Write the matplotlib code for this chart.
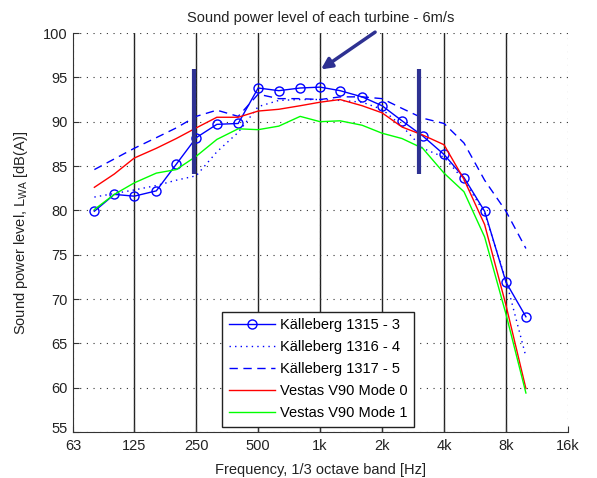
import numpy as np
import matplotlib
matplotlib.use("Agg")
import matplotlib.pyplot as plt
from matplotlib.transforms import ScaledTranslation

# 1/3 octave band centre frequencies [Hz]
freq = [80, 100, 125, 160, 200, 250, 315, 400, 500, 630, 800, 1000,
        1250, 1600, 2000, 2500, 3150, 4000, 5000, 6300, 8000, 10000]

# Sound power level per band [dB(A)]
k1315 = [79.9, 81.8, 81.6, 82.2, 85.2, 88.2, 89.7, 89.8, 93.8, 93.5, 93.8, 93.9,
         93.5, 92.8, 91.8, 90.1, 88.4, 86.3, 83.7, 79.9, 71.9, 68.0]
k1316 = [81.5, 81.9, 82.3, 82.8, 83.4, 83.9, 86.6, 88.8, 91.7, 92.4, 92.5, 92.5,
         92.4, 92.2, 91.4, 89.5, 87.0, 86.0, 83.4, 79.7, 72.1, 63.5]
k1317 = [84.6, 85.8, 87.0, 88.2, 89.3, 90.6, 91.3, 90.6, 93.1, 92.6, 92.6, 92.5,
         92.8, 92.8, 92.6, 91.5, 90.4, 89.8, 87.6, 83.4, 79.9, 75.7]
v90_m0 = [82.6, 84.1, 85.9, 87.0, 88.1, 89.3, 90.5, 90.5, 91.2, 91.4, 91.8, 92.2,
          92.5, 91.8, 91.0, 89.4, 88.5, 87.4, 83.5, 78.4, 69.3, 59.9]
v90_m1 = [80.1, 81.8, 83.1, 84.2, 84.6, 86.1, 88.0, 89.2, 89.1, 89.5, 90.6, 90.0,
          90.1, 89.6, 88.7, 88.1, 87.0, 84.2, 82.1, 77.0, 68.3, 59.4]

octave_ticks = [63, 125, 250, 500, 1000, 2000, 4000, 8000, 16000]
octave_labels = ['63', '125', '250', '500', '1k', '2k', '4k', '8k', '16k']

# highlighted range and arrow
bar_freqs = [245, 3030]
bar_range = [84.1, 95.9]
arrow_tail = (1850, 100.1)
arrow_tip = (1010, 95.9)

plt.rcParams['font.family'] = ['Liberation Sans', 'DejaVu Sans']
plt.rcParams['font.size'] = 10.5

fig = plt.figure(figsize=(5.97, 4.78), dpi=100)
ax = fig.add_axes([0.1223, 0.0962, 0.829, 0.8347])
ax.set_xscale('log')

# solid lines at octave centres
for f in octave_ticks[1:-1]:
    ax.axvline(f, color='#222222', lw=1.0, zorder=1)

ax.plot(freq, k1315, '-o', color='#0000ff', lw=1.0, ms=6.5, mfc='none', mew=1.0,
        label='Källeberg 1315 - 3', zorder=3)
ax.plot(freq, k1316, ':', color='#0000ff', lw=1.0, dashes=(1, 3),
        label='Källeberg 1316 - 4', zorder=3)
ax.plot(freq, k1317, '--', color='#0000ff', lw=1.0, dashes=(6, 4),
        label='Källeberg 1317 - 5', zorder=3)
ax.plot(freq, v90_m0, '-', color='#ff0000', lw=1.0, label='Vestas V90 Mode 0', zorder=3)
ax.plot(freq, v90_m1, '-', color='#00ff00', lw=1.0, label='Vestas V90 Mode 1', zorder=3)

for f in bar_freqs:
    ax.plot([f, f], bar_range, color='#2e3192', lw=3.0, solid_capstyle='butt', zorder=4)

ax.annotate('', xy=arrow_tip, xytext=arrow_tail, annotation_clip=False,
            arrowprops=dict(arrowstyle='-|>', color='#2e3192', lw=2.5,
                            mutation_scale=16, shrinkA=0, shrinkB=0), zorder=5)

ax.set_xlim(63, 16000)
ax.set_ylim(55, 100)
ax.set_xticks(octave_ticks)
ax.set_xticklabels(octave_labels)
ax.xaxis.set_minor_locator(matplotlib.ticker.NullLocator())
ax.set_yticks(np.arange(55, 101, 5))

ax.grid(True, linestyle=(0, (1, 5)), color='#333333', lw=0.8, zorder=0)
ax.spines['top'].set_visible(False)
ax.spines['right'].set_visible(False)
for s in ['left', 'bottom']:
    ax.spines[s].set_color('#333333')
ax.tick_params(direction='in', length=4, color='#333333', labelcolor='#222222')
ax.tick_params(axis='x', pad=5)
ax.tick_params(axis='y', pad=4)

# lift the lowest y label a little, as in the original
fig.canvas.draw()
lab55 = ax.get_yticklabels()[0]
lab55.set_transform(lab55.get_transform() + ScaledTranslation(0, 3 / 72, fig.dpi_scale_trans))

ax.set_title('Sound power level of each turbine - 6m/s', fontsize=10.5, color='#222222', pad=8)
ax.set_xlabel('Frequency, 1/3 octave band [Hz]', color='#222222', labelpad=7)
ax.set_ylabel('Sound power level, L$_{\\mathregular{WA}}$ [dB(A)]', color='#222222', labelpad=9)

leg = ax.legend(loc='lower left', bbox_to_anchor=(0.301, 0.0125), borderaxespad=0,
                fancybox=False, framealpha=1, edgecolor='#222222', handlelength=3.2,
                labelspacing=0.55, borderpad=0.45, handletextpad=0.3, fontsize=10.5)
leg.get_frame().set_linewidth(1.0)

fig.savefig('out.png', dpi=100)
